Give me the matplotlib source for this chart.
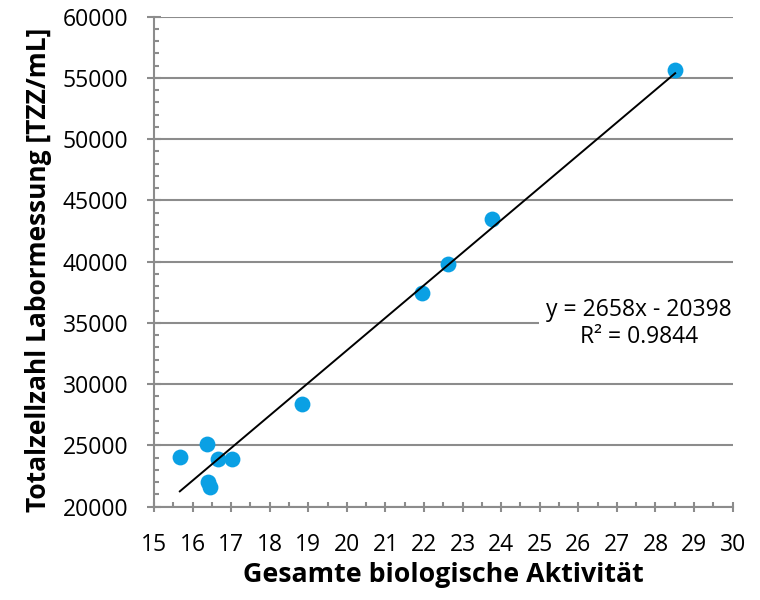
import matplotlib.pyplot as plt
import numpy as np
from matplotlib.ticker import MultipleLocator

plt.rcParams['font.family'] = ['Open Sans', 'DejaVu Sans']

# measured points
aktivitaet = [15.67, 16.38, 16.67, 17.03, 16.41, 16.46, 18.84, 21.95, 22.63, 23.76, 28.51]
tzz = [24060, 25090, 23870, 23870, 21990, 21630, 28380, 37420, 39790, 43490, 55630]

# linear trend line as printed in the chart
slope = 2658
intercept = -20398
r2 = 0.9844

fig = plt.figure(figsize=(7.6, 6), dpi=100)
ax = fig.add_axes([0.2026, 0.1555, 0.7614, 0.8167])

grid_c = '#8c8c8c'
ax.set_xlim(15, 30)
ax.set_ylim(20000, 60000)
ax.xaxis.set_major_locator(MultipleLocator(1))
ax.xaxis.set_minor_locator(MultipleLocator(0.5))
ax.yaxis.set_major_locator(MultipleLocator(5000))
ax.yaxis.set_minor_locator(MultipleLocator(1000))
ax.yaxis.grid(True, which='major', color=grid_c, lw=1.5)
ax.set_axisbelow(True)

for side in ['top', 'right']:
    ax.spines[side].set_visible(False)
for side in ['left', 'bottom']:
    ax.spines[side].set_color(grid_c)
    ax.spines[side].set_linewidth(1.5)
ax.tick_params(which='both', width=1.5, color=grid_c, labelsize=16.5)
ax.tick_params(axis='x', which='major', direction='inout', length=7.2, pad=15)
ax.tick_params(axis='y', which='major', direction='inout', length=10, pad=13.5)
ax.tick_params(which='minor', direction='in', length=3.8)

ax.scatter(aktivitaet, tzz, s=130, color='#0AA0E4', zorder=3, linewidths=0)

xs = np.array([min(aktivitaet), max(aktivitaet)])
ax.plot(xs, slope * xs + intercept, color='black', lw=1.4, zorder=4)

ax.text(25.16, 34950, f'y = {slope}x - {abs(intercept)}\nR² = {r2}', fontsize=16.5,
        ha='left', va='center', multialignment='center', linespacing=1.2,
        bbox=dict(facecolor='white', edgecolor='none', pad=5), zorder=5)

ax.set_xlabel('Gesamte biologische Aktivität', fontsize=19.3, fontweight='bold', labelpad=4)
ax.set_ylabel('Totalzellzahl Labormessung [TZZ/mL]', fontsize=19, fontweight='bold')
ax.yaxis.set_label_coords(-0.176, 0.483)

fig.savefig('out.png', dpi=100)
